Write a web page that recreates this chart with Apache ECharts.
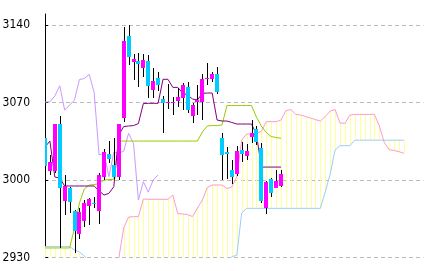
<!DOCTYPE html>
<html>
<head>
<meta charset="utf-8">
<script src="https://cdn.jsdelivr.net/npm/echarts@6/dist/echarts.min.js"></script>
<style>
html,body{margin:0;padding:0;background:#fff;}
#chart{width:434px;height:271px;}
</style>
</head>
<body>
<div id="chart"></div>
<script>
// ---- data ----
const yTicks = [2930, 3000, 3070, 3140];
const slotCount = 78; // category slots incl. 25 forward slots of the cloud

const open  = [3037.6,3008.0,3008.3,3050.6,2981.0,2992.5,2972.0,2950.9,2963.0,2976.5,2979.5,2972.3,3003.0,3023.2,3013.5,3002.5,3056.0,3130.3,3107.0,3107.8,3101.0,3107.8,3081.3,3092.4,3073.2,3069.6,3069.6,3071.3,3073.8,3084.3,3058.1,3070.2,3070.8,3091.0,3091.0,3095.7,3038.2,3025.3,3009.0,3005.4,3027.1,3021.9,3039.1,3045.8,3029.2,2975.0,3000.9,2993.0,2995.0];
const close = [3013.0,3016.5,3050.6,2992.5,2994.6,2979.8,2954.0,2970.8,2979.1,2982.8,2978.0,3004.5,3025.6,3018.7,3003.0,3050.6,3125.8,3110.8,3109.3,3104.8,3108.4,3085.2,3089.6,3086.0,3069.3,3070.8,3070.5,3074.9,3085.7,3063.2,3067.7,3072.3,3091.2,3091.8,3095.7,3079.2,3022.6,3023.5,3003.0,3026.2,3023.5,3026.2,3042.7,3034.6,2981.0,2998.5,2988.5,2999.1,3005.4];
const low   = [3012.0,3004.5,3006.0,2938.3,2968.4,2970.0,2933.8,2946.7,2958.0,2959.5,2975.0,2960.0,3000.0,3015.0,3001.0,3000.0,3052.0,3104.0,3090.0,3084.0,3093.0,3074.0,3073.8,3080.0,3042.2,3064.1,3058.7,3065.6,3063.2,3061.0,3051.2,3058.7,3054.2,3085.8,3089.0,3078.0,3000.0,3000.6,2996.1,3004.0,3016.5,3018.0,3033.1,3032.0,2979.5,2969.4,2985.0,2992.5,2993.5];
const high  = [3039.0,3022.6,3051.0,3058.0,3004.5,2994.0,2973.0,2974.4,2982.0,2984.0,2985.0,3006.0,3028.0,3035.0,3037.6,3051.0,3138.0,3140.0,3114.0,3115.0,3114.0,3113.0,3100.9,3097.8,3076.0,3086.4,3075.3,3082.8,3087.9,3088.8,3070.0,3085.8,3095.5,3105.4,3097.8,3101.8,3042.2,3030.1,3018.0,3030.7,3034.6,3032.5,3054.2,3049.0,3033.1,2999.0,3001.5,3009.0,3009.0];

const tenkan = [3029.8,3035.2,3002.7,3001.8,2994.6,2994.6,2994.6,2994.6,2994.6,2994.6,2994.6,2990.2,2986.4,2988.0,2994.0,3040.6,3048.3,3048.8,3049.2,3051.0,3069.1,3069.3,3069.3,3069.3,3091.0,3091.0,3083.7,3083.7,3078.6,3076.8,3073.2,3072.3,3078.3,3078.6,3078.6,3054.2,3053.3,3053.3,3052.0,3050.6,3050.6,3050.6,3050.6,3041.5,3011.7,3011.7,3011.7,3011.7,3011.7];
const kijun  = [2938.6,2938.6,2938.6,2938.6,2938.6,2938.6,2956.6,2979.2,2991.9,2995.5,2995.9,2996.8,3000.0,3000.4,3000.6,3035.2,3035.2,3035.2,3035.2,3035.2,3035.2,3035.2,3035.2,3035.2,3035.2,3035.2,3035.2,3035.2,3035.2,3035.2,3035.2,3035.2,3043.4,3048.8,3049.2,3049.2,3049.7,3067.3,3067.3,3067.3,3067.3,3067.3,3067.3,3056.9,3048.8,3042.9,3039.3,3038.4,3037.7];
const chikou = [3070.4,3070.7,3075.9,3085.2,3063.2,3067.7,3072.3,3090.8,3091.7,3095.5,3079.0,3022.6,3024.0,3003.0,3025.0,3024.4,3026.0,3042.2,3033.1,2981.9,2998.5,2989.0,3000.0,3004.5];
const senkouA = [2918,2918,2919,2919,2920,2920,2921,2921,2922,2922,2923,2923,2924,2925,2922,2929.0,2956.6,2966.6,2966.9,2966.9,2982.8,2982.6,2982.6,2982.6,2982.6,2982.6,2986.4,2969.7,2969.3,2968.8,2967.0,2974.7,2981.9,2993.2,2995.5,2995.5,2995.5,2992.3,2993.7,3002.7,3036.1,3041.5,3041.5,3042.4,3043.9,3052.7,3052.7,3052.7,3054.2,3062.8,3063.7,3059.3,3058.7,3057.4,3056.0,3054.6,3053.3,3057.4,3062.3,3063.7,3051.5,3051.2,3058.7,3059.3,3059.3,3059.3,3059.3,3059.3,3048.8,3033.9,3027.5,3026.6,3025.6,3024.1];
const senkouB = [2939.8,2939.8,2939.8,2939.8,2939.8,2939.8,2936.8,2935.0,2931.4,2926,2926,2926,2926,2926,2926,2926,2926,2926,2926,2926,2926,2926,2926,2926,2926,2926,2926,2926,2926,2926,2926,2926,2926,2926,2926,2926,2926,2926,2930.9,2931.8,2970.2,2974.4,2974.4,2974.4,2974.4,2974.4,2974.4,2974.4,2974.4,2974.4,2974.4,2974.4,2974.4,2974.4,2974.4,2974.4,2974.4,2989.2,3005.4,3027.1,3031.0,3031.0,3031.0,3036.0,3036.0,3036.0,3036.0,3036.0,3036.0,3036.0,3036.0,3036.0,3036.0,3036.0];

const categories = Array.from({length: slotCount}, (_, i) => String(i));

// tables for the library
const candleData = open.map((o, i) => [i, o, close[i], low[i], high[i]]);
const cloudData = senkouA.map((a, k) => [k, a, senkouB[k]]);

const chart = echarts.init(document.getElementById('chart'), null, {renderer: 'canvas'});

function clampY(y, cs) { return Math.max(cs.y, Math.min(cs.y + cs.height, y)); }

chart.setOption({
  animation: false,
  backgroundColor: '#ffffff',
  grid: {left: 45, top: 14, width: 378.6, height: 243.5, containLabel: false, outerBoundsMode: 'none'},
  xAxis: {
    type: 'category', data: categories, boundaryGap: false, show: false
  },
  yAxis: {
    type: 'value', min: 2930, max: 3150, interval: 70,
    axisLine: {show: true, lineStyle: {color: '#000', width: 1}},
    axisTick: {show: true, inside: true, length: 3, lineStyle: {color: '#000'}, customValues: yTicks},
    axisLabel: {customValues: yTicks, color: '#000', fontSize: 12, margin: 15,
      formatter: v => String(v),
      fontFamily: "'Liberation Sans Narrow','DejaVu Sans Condensed',sans-serif"},
    splitLine: {show: true, lineStyle: {color: '#BBBBBB', width: 1, type: [4, 3]}}
  },
  series: [
    {
      name: 'cloud', type: 'custom', data: cloudData, clip: true, z: 1,
      renderItem: (params, api) => {
        const k = api.value(0);
        const pA = api.coord([k, api.value(1)]);
        const pB = api.coord([k, api.value(2)]);
        const cs = params.coordSys;
        const y1 = clampY(Math.min(pA[1], pB[1]), cs);
        const y2 = clampY(Math.max(pA[1], pB[1]), cs);
        if (y2 - y1 < 0.5) return null;
        const x = Math.round(pA[0]) + 0.5;
        return {type: 'line', shape: {x1: x, y1: y1, x2: x, y2: y2},
          style: {stroke: '#FFFF99', lineWidth: 1}};
      }
    },
    {name: 'senkouA', type: 'line', data: senkouA, showSymbol: false, symbol: 'none', z: 2,
      lineStyle: {color: '#FF99CC', width: 1}},
    {name: 'senkouB', type: 'line', data: senkouB, showSymbol: false, symbol: 'none', z: 2,
      lineStyle: {color: '#99CCFF', width: 1}},
    {name: 'chikou', type: 'line', data: chikou, showSymbol: false, symbol: 'none', z: 3,
      lineStyle: {color: '#CC99FF', width: 1}},
    {name: 'kijun', type: 'line', data: kijun, showSymbol: false, symbol: 'none', z: 4,
      lineStyle: {color: '#99CC00', width: 1}},
    {name: 'tenkan', type: 'line', data: tenkan, showSymbol: false, symbol: 'none', z: 4,
      lineStyle: {color: '#800080', width: 1}},
    {
      name: 'candles', type: 'custom', data: candleData, clip: true, z: 5,
      renderItem: (params, api) => {
        const i = api.value(0);
        const o = api.value(1), c = api.value(2), l = api.value(3), h = api.value(4);
        const pO = api.coord([i, o]), pC = api.coord([i, c]);
        const pL = api.coord([i, l]), pH = api.coord([i, h]);
        const x = Math.round(pO[0]);
        const top = Math.round(Math.min(pO[1], pC[1]));
        const bot = Math.round(Math.max(pO[1], pC[1]));
        return {type: 'group', children: [
          {type: 'line', shape: {x1: x + 0.5, y1: Math.round(pH[1]), x2: x + 0.5, y2: Math.round(pL[1])},
            style: {stroke: '#000', lineWidth: 1}},
          {type: 'rect', shape: {x: x - 2, y: top, width: 4, height: Math.max(1, bot - top)},
            style: {fill: c >= o ? '#FF00FF' : '#00CCFF'}}
        ]};
      }
    }
  ]
});
</script>
</body>
</html>
